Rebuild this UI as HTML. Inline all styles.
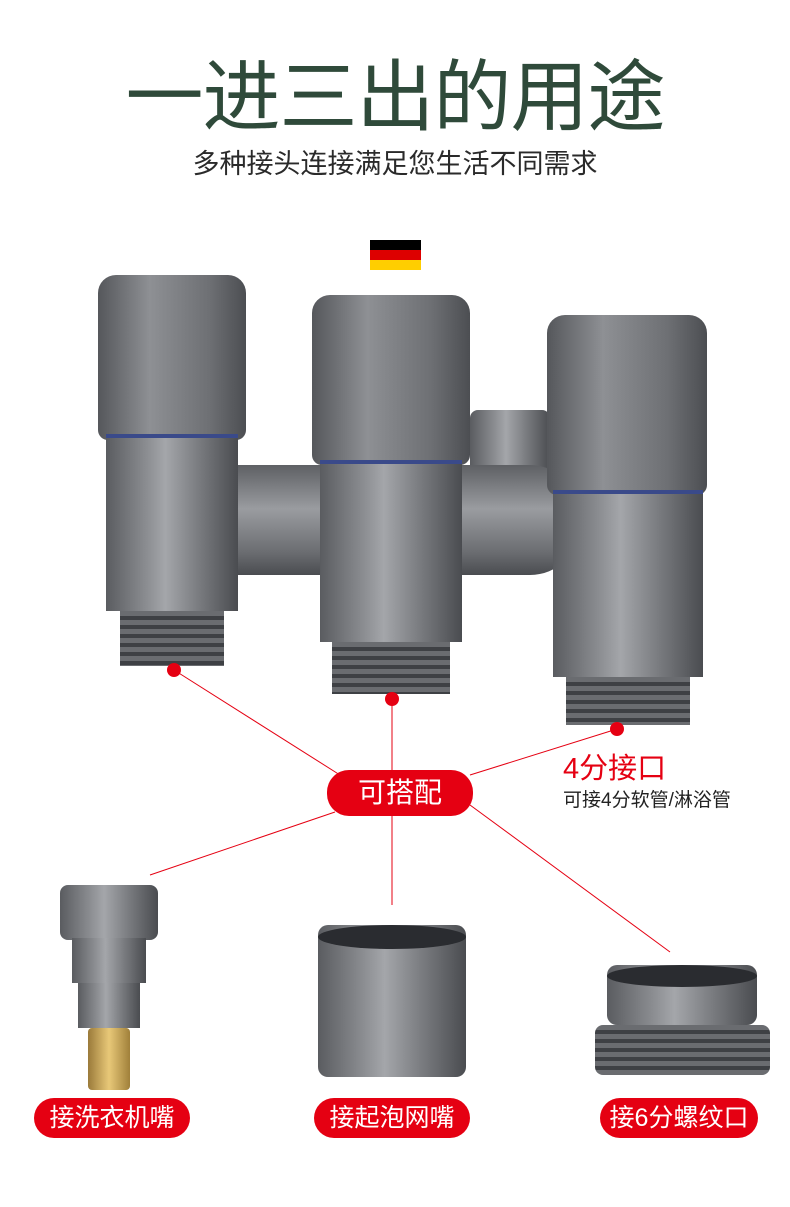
<!DOCTYPE html>
<html><head><meta charset="utf-8"><style>
body{margin:0;width:790px;height:1207px;background:#fff;position:relative;overflow:hidden;font-family:"Liberation Sans","Noto Sans CJK SC",sans-serif}
.a{position:absolute}
.m{background:linear-gradient(90deg,#5a5c60,#8a8c90 30%,#a4a6aa 45%,#7a7c80 70%,#4a4c50)}
.h{background:linear-gradient(90deg,#55575b,#8e9094 35%,#6e7074 75%,#4c4e52);border-radius:18px 18px 10px 10px}
.t{background:repeating-linear-gradient(180deg,#6a6c70 0 5px,#3e4044 5px 9px)}
.pill{position:absolute;background:#e50012;color:#fff;border-radius:22px;text-align:center}
</style></head><body>
<div class="a" style="left:0;width:790px;top:52px;text-align:center;font-size:78px;color:#2f4a3a;font-weight:normal;letter-spacing:-1px;line-height:90px">一进三出的用途</div>
<div class="a" style="left:0;width:790px;top:146px;text-align:center;font-size:27px;color:#2a2a2a;line-height:36px">多种接头连接满足您生活不同需求</div>
<div class="a" style="left:370px;top:240px;width:51px;height:10px;background:#000"></div>
<div class="a" style="left:370px;top:250px;width:51px;height:10px;background:#dd0000"></div>
<div class="a" style="left:370px;top:260px;width:51px;height:10px;background:#ffce00"></div>
<div class="a m" style="left:470px;top:410px;width:80px;height:100px;border-radius:8px"></div>
<div class="a" style="left:180px;top:465px;width:400px;height:110px;border-radius:50px;background:linear-gradient(180deg,#5e6064,#9a9ca0 40%,#6a6c70 80%,#4a4c50)"></div>
<div class="a h" style="left:98px;top:275px;width:148px;height:165px"></div>
<div class="a m" style="left:106px;top:436px;width:132px;height:175px"></div>
<div class="a" style="left:106px;top:434px;width:132px;height:4px;background:#3a4a8a"></div>
<div class="a t" style="left:120px;top:611px;width:104px;height:55px"></div>
<div class="a h" style="left:312px;top:295px;width:158px;height:170px"></div>
<div class="a m" style="left:320px;top:462px;width:142px;height:180px"></div>
<div class="a" style="left:320px;top:460px;width:142px;height:4px;background:#3a4a8a"></div>
<div class="a t" style="left:332px;top:642px;width:118px;height:52px"></div>
<div class="a h" style="left:547px;top:315px;width:160px;height:180px"></div>
<div class="a m" style="left:553px;top:492px;width:150px;height:185px"></div>
<div class="a" style="left:553px;top:490px;width:150px;height:4px;background:#3a4a8a"></div>
<div class="a t" style="left:566px;top:677px;width:124px;height:48px"></div>
<svg class="a" style="left:0;top:0" width="790" height="1207">
<g stroke="#e50012" stroke-width="1" fill="none">
<line x1="174" y1="670" x2="340" y2="775"/><line x1="392" y1="699" x2="392" y2="770"/>
<line x1="617" y1="729" x2="470" y2="775"/><line x1="335" y1="812" x2="150" y2="875"/>
<line x1="392" y1="815" x2="392" y2="905"/><line x1="470" y1="805" x2="670" y2="952"/></g>
<g fill="#e50012"><circle cx="174" cy="670" r="7"/><circle cx="392" cy="699" r="7"/><circle cx="617" cy="729" r="7"/></g>
</svg>
<div class="pill" style="left:327px;top:770px;width:146px;height:46px;line-height:46px;font-size:28px">可搭配</div>
<div class="a" style="left:563px;top:750px;font-size:29px;color:#e50012;line-height:38px">4分接口</div>
<div class="a" style="left:563px;top:789px;font-size:19px;color:#222;line-height:24px">可接4分软管/淋浴管</div>
<div class="a m" style="left:60px;top:885px;width:98px;height:55px;border-radius:8px"></div>
<div class="a m" style="left:72px;top:938px;width:74px;height:45px"></div>
<div class="a m" style="left:78px;top:983px;width:62px;height:45px"></div>
<div class="a" style="left:88px;top:1028px;width:42px;height:62px;background:linear-gradient(90deg,#9a7a3a,#e8c878,#a0803a);border-radius:4px"></div>
<div class="a m" style="left:318px;top:925px;width:148px;height:152px;border-radius:10px"></div>
<div class="a" style="left:318px;top:925px;width:148px;height:24px;border-radius:50%;background:#2a2c30"></div>
<div class="a m" style="left:607px;top:965px;width:150px;height:60px;border-radius:10px"></div>
<div class="a" style="left:607px;top:965px;width:150px;height:22px;border-radius:50%;background:#2a2c30"></div>
<div class="a t" style="left:595px;top:1025px;width:175px;height:50px;border-radius:8px"></div>
<div class="pill" style="left:34px;top:1098px;width:156px;height:40px;line-height:40px;font-size:25px">接洗衣机嘴</div>
<div class="pill" style="left:314px;top:1098px;width:156px;height:40px;line-height:40px;font-size:25px">接起泡网嘴</div>
<div class="pill" style="left:600px;top:1098px;width:158px;height:40px;line-height:40px;font-size:25px">接6分螺纹口</div>
</body></html>
